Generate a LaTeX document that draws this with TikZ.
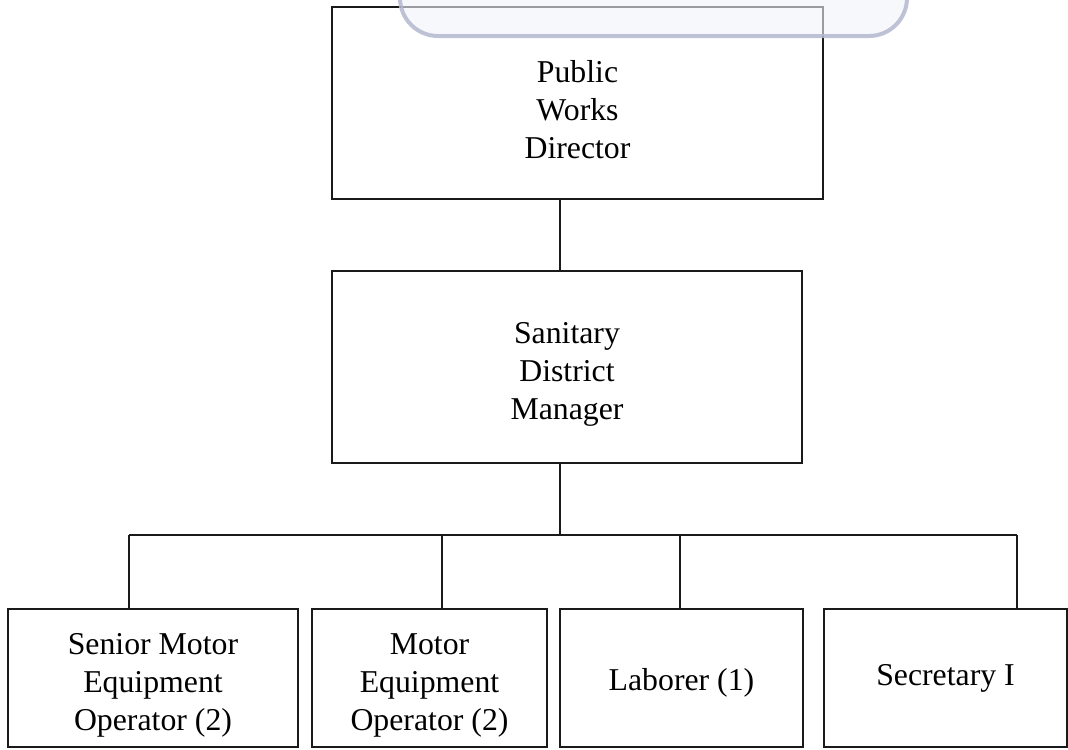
\documentclass[tikz,border=0pt]{standalone}
\usepackage{fontspec}
\setmainfont{Liberation Serif}
\definecolor{inkline}{HTML}{1A1A1A}
\definecolor{tabfill}{HTML}{F2F3F8}
\definecolor{tabedge}{HTML}{B4B8CF}
\usetikzlibrary{positioning,calc}
\newcommand{\topgap}{\rule{0pt}{25pt}}

\begin{document}
\begin{tikzpicture}[x=0.025cm,y=-0.025cm,
    post/.style={draw=inkline,line width=1.2pt,inner sep=0pt,align=center,
      font=\fontsize{22.6}{27}\selectfont},
    link/.style={inkline,line width=1.2pt}]
  \useasboundingbox (0,0) rectangle (1068,750);
  % chain of command
  \node[post,minimum width=491*0.025cm,minimum height=192*0.025cm] (director) at (577.5,103)
    {\topgap Public\\ Works\\Director};
  \node[post,minimum width=470*0.025cm,minimum height=192*0.025cm] (manager) at (567,367)
    {\topgap Sanitary\\District\\Manager};
  % staff row
  \node[post,minimum width=290*0.025cm,minimum height=138*0.025cm] (seniorop) at (153,678)
    {\topgap Senior Motor\\Equipment\\Operator (2)};
  \node[post,minimum width=235*0.025cm,minimum height=138*0.025cm] (motorop) at (429.5,678)
    {\topgap Motor\\Equipment\\Operator (2)};
  \node[post,minimum width=243*0.025cm,minimum height=138*0.025cm] (laborer) at (681.5,678)
    {\rule{0pt}{22pt}Laborer (1)};
  \node[post,minimum width=243*0.025cm,minimum height=138*0.025cm] (secretary) at (945.5,678)
    {Secretary I};
  % connectors
  \coordinate (spine) at (560,535);
  \coordinate (d1) at (129,535);
  \coordinate (d2) at (442,535);
  \coordinate (d3) at (680,535);
  \coordinate (d4) at (1017,535);
  \draw[link] (director.south -| spine) -- (manager.north -| spine);
  \draw[link] (manager.south -| spine) -- (spine);
  \draw[link] (d1) -- (d4);
  \draw[link] (d1) -- (d1 |- seniorop.north);
  \draw[link] (d2) -- (d2 |- motorop.north);
  \draw[link] (d3) -- (d3 |- laborer.north);
  \draw[link] (d4) -- (d4 |- secretary.north);
  % tab overlapping the top
  \draw[tabedge,line width=0.1cm,fill=tabfill,fill opacity=0.6,draw opacity=0.85,
    rounded corners=0.95cm] (400,-60) rectangle (907,36);
\end{tikzpicture}
\end{document}
